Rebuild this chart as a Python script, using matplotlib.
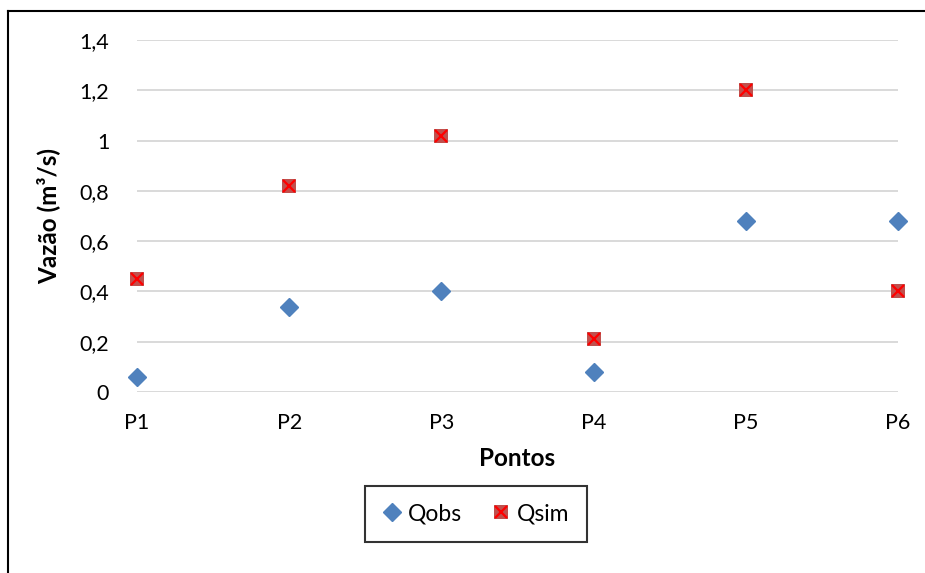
import matplotlib.pyplot as plt
from matplotlib.lines import Line2D
from matplotlib.legend_handler import HandlerTuple

plt.rcParams['font.family'] = ['Lato', 'DejaVu Sans']

pontos = ['P1', 'P2', 'P3', 'P4', 'P5', 'P6']
qobs = [0.06, 0.34, 0.40, 0.08, 0.68, 0.68]
qsim = [0.45, 0.82, 1.02, 0.21, 1.20, 0.40]
yticks = [0, 0.2, 0.4, 0.6, 0.8, 1.0, 1.2, 1.4]
ylabels = ['0', '0,2', '0,4', '0,6', '0,8', '1', '1,2', '1,4']

fig = plt.figure(figsize=(9.25, 5.73), dpi=100)
ax = fig.add_axes([137 / 925, 1 - 392 / 573, (898 - 137) / 925, (392 - 40) / 573])

x = list(range(len(pontos)))
ax.plot(x, qobs, linestyle='none', marker='D', markersize=9, color='#4F81BD',
        clip_on=False, zorder=3)
ax.plot(x, qsim, linestyle='none', marker='s', markersize=10, color='#C0504D',
        markeredgewidth=0, clip_on=False, zorder=3)
ax.plot(x, qsim, linestyle='none', marker='x', markersize=9, color='#FF0000',
        markeredgewidth=1.6, clip_on=False, zorder=4)

ax.set_xlim(0, len(pontos) - 1)
ax.set_ylim(0, 1.4)
ax.set_xticks(x)
ax.set_xticklabels(pontos)
ax.set_yticks(yticks)
ax.set_yticklabels(ylabels)
ax.tick_params(axis='both', length=0, labelsize=15.5, colors='black')
ax.tick_params(axis='y', pad=20)
ax.tick_params(axis='x', pad=15)
ax.grid(axis='y', color='#D9D9D9', linewidth=1.4)
ax.set_axisbelow(True)
for s in ax.spines.values():
    s.set_visible(False)

ax.set_xlabel('Pontos', fontsize=17.5, fontweight='bold', labelpad=10)
ax.set_ylabel('Vazão (m³/s)', fontsize=17.5, fontweight='bold', labelpad=14)

h_obs = Line2D([], [], linestyle='none', marker='D', markersize=9, color='#4F81BD')
h_sq = Line2D([], [], linestyle='none', marker='s', markersize=10, color='#C0504D',
              markeredgewidth=0)
h_x = Line2D([], [], linestyle='none', marker='x', markersize=9, color='#FF0000',
             markeredgewidth=1.6)
leg = fig.legend([h_obs, (h_sq, h_x)], ['Qobs', 'Qsim'],
                 handler_map={tuple: HandlerTuple(ndivide=1)},
                 loc='center', bbox_to_anchor=(476 / 925, 1 - 514 / 573),
                 ncol=2, fontsize=16.5, frameon=True, fancybox=False,
                 handlelength=0.8, handletextpad=0.3, columnspacing=1.3,
                 borderpad=0.75)
leg.get_frame().set_edgecolor('black')
leg.get_frame().set_linewidth(1.5)

# outer chart border (left and top visible)
fig.add_artist(Line2D([8 / 925, 8 / 925], [0, 1 - 11 / 573], color='black', linewidth=1.5))
fig.add_artist(Line2D([8 / 925, 1], [1 - 11 / 573, 1 - 11 / 573], color='black', linewidth=1.5))

fig.savefig('out.png', dpi=100)
